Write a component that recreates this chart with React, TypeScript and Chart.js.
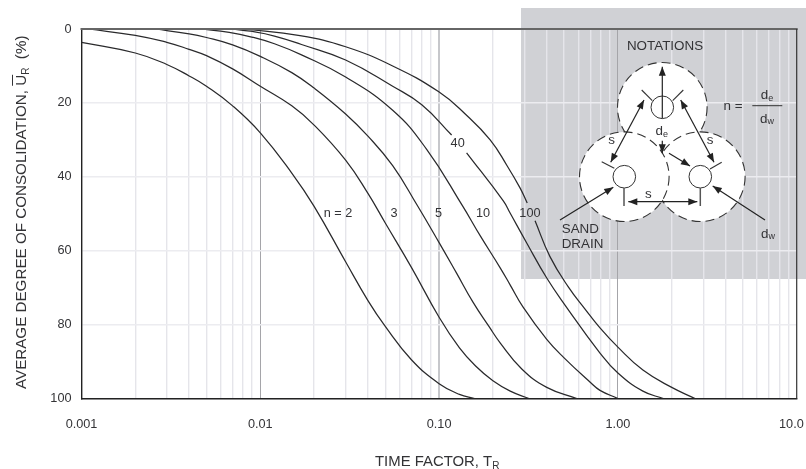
import React, { useEffect, useRef } from "react";
import { Chart, registerables } from "chart.js";

Chart.register(...registerables);

const FONT = '"Liberation Sans", Arial, sans-serif';
const INK = "#333336";

const xTicks = [0.001,0.002,0.003,0.004,0.005,0.006,0.007,0.008,0.009,0.01,0.02,0.03,0.04,0.05,0.06,0.07,0.08,0.09,0.1,0.2,0.3,0.4,0.5,0.6,0.7,0.8,0.9,1,2,3,4,5,6,7,8,9,10];
const xLabels: Record<string, string> = { "0.001": "0.001", "0.01": "0.01", "0.1": "0.10", "1": "1.00", "10": "10.0\u00a0\u00a0\u00a0" };
const yTicks = [0, 20, 40, 60, 80, 100];

const t2 = [0.001,0.002,0.003,0.004,0.005,0.007,0.01,0.015,0.02,0.03,0.04,0.05,0.07,0.1,0.13,0.158];
const u2 = [3.6,6.5,9.6,12.7,15.5,20.8,28.1,39,48,63,73.5,80.5,89.5,96,98.9,100];
const t3 = [0.00109,0.002,0.003,0.004,0.005,0.007,0.01,0.015,0.02,0.03,0.04,0.05,0.07,0.1,0.13,0.16,0.2,0.25,0.318];
const u3 = [0,1.7,3.6,5.5,7.2,10.8,15.5,20.8,26,35.5,44.5,52.5,64.5,78,86.3,91.2,95.2,98,100];
const t5 = [0.00258,0.004,0.005,0.007,0.01,0.015,0.02,0.03,0.04,0.055,0.075,0.1,0.125,0.155,0.19,0.22,0.29,0.4,0.589];
const u5 = [0,1.3,2.3,4.3,7.4,11.8,16,23,29,37,47.5,57.8,66,74,80.5,85,92,97,100];
const t10 = [0.0046,0.0067,0.009,0.012,0.017,0.03,0.055,0.085,0.135,0.17,0.22,0.25,0.2944,0.4,0.5,0.7,0.794,1];
const u10 = [0,0.9,2.2,4,7,13,22,32.5,47.8,56,64.7,69.3,75.2,84,89,95.6,97.8,100];
const t40 = [0.00695,0.0088,0.012,0.017,0.03,0.055,0.08,0.1175,0.13,0.1425,0.2286,0.2495,0.309,0.4,0.506,0.794,1,1.38,1.795];
const u40 = [0,0.6,1.9,4.2,8.4,15.5,20.5,28.7,null,33.5,46.5,49.8,57.9,67.4,74.7,87.7,93.1,98,100];
const t100 = [0.008,0.01667,0.03,0.055,0.0996,0.14,0.193,0.24,0.2835,0.311,0.328,0.344,0.417,0.528,0.655,0.794,1,1.38,2,2.7];
const u100 = [0,1.8,4.8,10,17,23,30,37,43,47.1,null,51.9,61.6,69.8,75.8,80.9,86.1,92.3,97,100];

const seriesNames = ["n = 2", "3", "5", "10", "40", "100"];
const seriesT = [t2, t3, t5, t10, t40, t100];
const seriesU = [u2, u3, u5, u10, u40, u100];
const curveLabelT = [0.0272, 0.056, 0.0993, 0.176, 0.127, 0.322];
const curveLabelU = [49.8, 49.8, 49.8, 49.8, 30.9, 49.8];
const curveLabelText = ["n = 2", "3", "5", "10", "40", "100"];

function arrow(ctx: CanvasRenderingContext2D, x1: number, y1: number, x2: number, y2: number, startHead: boolean, endHead: boolean) {
  ctx.beginPath();
  ctx.moveTo(x1, y1);
  ctx.lineTo(x2, y2);
  ctx.stroke();
  const head = (hx: number, hy: number, fx: number, fy: number) => {
    const a = Math.atan2(hy - fy, hx - fx);
    const L = 9, W = 3.5;
    ctx.beginPath();
    ctx.moveTo(hx, hy);
    ctx.lineTo(hx - L * Math.cos(a) - W * Math.sin(a), hy - L * Math.sin(a) + W * Math.cos(a));
    ctx.lineTo(hx - L * Math.cos(a) + W * Math.sin(a), hy - L * Math.sin(a) - W * Math.cos(a));
    ctx.closePath();
    ctx.fill();
  };
  if (startHead) head(x1, y1, x2, y2);
  if (endHead) head(x2, y2, x1, y1);
}

function seg(ctx: CanvasRenderingContext2D, x1: number, y1: number, x2: number, y2: number) {
  ctx.beginPath();
  ctx.moveTo(x1, y1);
  ctx.lineTo(x2, y2);
  ctx.stroke();
}

function text(ctx: CanvasRenderingContext2D, s: string, x: number, y: number, size = 13.4, align: CanvasTextAlign = "center") {
  ctx.font = `${size}px ${FONT}`;
  ctx.textAlign = align;
  ctx.textBaseline = "middle";
  ctx.fillStyle = INK;
  ctx.fillText(s, x, y);
}

function subText(ctx: CanvasRenderingContext2D, s: string, sub: string, x: number, y: number) {
  ctx.font = `13.4px ${FONT}`;
  const w = ctx.measureText(s).width;
  ctx.font = `9px ${FONT}`;
  const sw = ctx.measureText(sub).width;
  const left = x - (w + sw) / 2;
  text(ctx, s, left, y, 13.4, "left");
  text(ctx, sub, left + w, y + 3, 9, "left");
}

const panelPlugin = {
  id: "panel",
  beforeDraw(chart: any) {
    const ctx = chart.ctx;
    ctx.save();
    ctx.fillStyle = "#d0d1d5";
    ctx.fillRect(521, 8, 285, 271);
    ctx.restore();
  },
};

const insetPlugin = {
  id: "inset",
  afterDatasetsDraw(chart: any) {
    const ctx: CanvasRenderingContext2D = chart.ctx;
    const { chartArea: a, scales } = chart;
    ctx.save();

    // frame
    ctx.strokeStyle = "#666";
    ctx.lineWidth = 2;
    seg(ctx, a.left - 1, a.top, a.right + 1, a.top);
    ctx.strokeStyle = "#333";
    ctx.lineWidth = 1.2;
    seg(ctx, a.right, a.top, a.right, a.bottom);

    // circles (order keeps the front arcs visible)
    const R = 44.8;
    const cy = 176.7;
    const circles = [[662.3, 107.3], [700.3, cy], [624.3, cy]];
    for (const [cx, y] of circles) {
      ctx.beginPath();
      ctx.arc(cx, y, R, 0, Math.PI * 2);
      ctx.fillStyle = "#ffffff";
      ctx.fill();
      ctx.setLineDash([9, 5]);
      ctx.strokeStyle = "#333";
      ctx.lineWidth = 1.1;
      ctx.stroke();
      ctx.setLineDash([]);
    }
    for (const [cx, y] of circles) {
      ctx.beginPath();
      ctx.arc(cx, y, 11.3, 0, Math.PI * 2);
      ctx.strokeStyle = "#333";
      ctx.lineWidth = 1;
      ctx.stroke();
    }

    // leader stubs
    ctx.strokeStyle = "#333";
    ctx.lineWidth = 1.1;
    seg(ctx, 641.7, 90, 652.3, 100.7);
    seg(ctx, 683.3, 90, 672.7, 100.7);
    seg(ctx, 601.7, 161.7, 614.3, 168.3);
    seg(ctx, 721.7, 162.3, 710, 169);
    ctx.strokeStyle = "#555";
    ctx.lineWidth = 1.5;
    seg(ctx, 624, 188, 624, 206);
    seg(ctx, 700.3, 188, 700.3, 206);

    // arrows
    ctx.fillStyle = "#222";
    ctx.strokeStyle = "#222";
    ctx.lineWidth = 1.2;
    arrow(ctx, 662.3, 118.3, 662.3, 66.7, false, true);
    arrow(ctx, 610.7, 162.3, 644, 100, true, true);
    arrow(ctx, 680.7, 100, 714, 162.3, true, true);
    arrow(ctx, 628.3, 201.7, 697.3, 201.7, true, true);
    arrow(ctx, 662.3, 140.7, 662.3, 153.3, false, true);
    arrow(ctx, 669, 153.3, 690, 166, false, true);
    arrow(ctx, 560, 220, 613.3, 187.3, false, true);
    arrow(ctx, 765, 220, 712.7, 186, false, true);
    ctx.fillStyle = INK;

    // inset text
    text(ctx, "NOTATIONS", 665, 46.7);
    text(ctx, "n =", 733, 106.7);
    ctx.strokeStyle = "#333";
    ctx.lineWidth = 1;
    seg(ctx, 752.3, 105.7, 782.3, 105.7);
    subText(ctx, "d", "e", 767, 95.7);
    subText(ctx, "d", "w", 767, 119);
    subText(ctx, "d", "e", 661.7, 131.7);
    subText(ctx, "d", "w", 768, 234);
    text(ctx, "s", 611.7, 140.7);
    text(ctx, "s", 710, 140.7);
    text(ctx, "s", 648.3, 194.3);
    text(ctx, "SAND", 561.7, 229.3, 13.4, "left");
    text(ctx, "DRAIN", 561.7, 244.3, 13.4, "left");

    // curve labels
    curveLabelText.forEach((s, i) => {
      text(ctx, s, scales.x.getPixelForValue(curveLabelT[i]), scales.y.getPixelForValue(curveLabelU[i]), 12.7);
    });

    // axis titles with overbar and subscripts
    ctx.font = `14.9px ${FONT}`;
    const xMain = "TIME FACTOR, T";
    ctx.textAlign = "left";
    ctx.textBaseline = "alphabetic";
    ctx.fillStyle = INK;
    ctx.fillText(xMain, 375, 466);
    const xw = ctx.measureText(xMain).width;
    ctx.font = `10px ${FONT}`;
    ctx.fillText("R", 375 + xw, 469);

    ctx.translate(25.5, 389);
    ctx.rotate(-Math.PI / 2);
    ctx.font = `15.2px ${FONT}`;
    const p1 = "AVERAGE DEGREE OF CONSOLIDATION, ";
    ctx.fillText(p1, 0, 0);
    let px = ctx.measureText(p1).width;
    ctx.fillText("U", px, 0);
    const uw = ctx.measureText("U").width;
    ctx.strokeStyle = INK;
    ctx.lineWidth = 1;
    seg(ctx, px, -13, px + uw, -13);
    px += uw;
    ctx.font = `10px ${FONT}`;
    ctx.fillText("R", px, 3);
    px += ctx.measureText("R").width;
    ctx.font = `15.2px ${FONT}`;
    ctx.fillText("  (%)", px, 0);
    ctx.restore();
  },
};

export default function App() {
  const ref = useRef<HTMLCanvasElement>(null);
  useEffect(() => {
    document.body.style.margin = "0";
    const chart = new Chart(ref.current as HTMLCanvasElement, {
      type: "line",
      data: {
        datasets: seriesNames.map((label, i) => ({
          label,
          data: seriesT[i].map((t, j) => ({ x: t, y: seriesU[i][j] })),
          borderColor: "#2a2a2c",
          borderWidth: 1.25,
          pointRadius: 0,
          tension: 0.45,
          spanGaps: false,
          fill: false,
        })),
      } as any,
      options: {
        animation: false,
        responsive: false,
        layout: { padding: { top: 29, right: 9.3, left: 0, bottom: 0 } },
        plugins: { legend: { display: false }, tooltip: { enabled: false } },
        scales: {
          x: {
            type: "logarithmic",
            min: 0.001,
            max: 10,
            afterBuildTicks(scale: any) {
              scale.ticks = xTicks.map((value) => ({ value }));
            },
            afterFit(scale: any) {
              scale.height = 70.5;
              scale.paddingLeft = 0;
              scale.paddingRight = 0;
            },
            ticks: {
              autoSkip: false,
              maxRotation: 0,
              padding: 18.5,
              color: INK,
              font: { family: FONT, size: 12.7 },
              callback: (v: any) => xLabels[String(Number(v))] ?? "",
            },
            grid: {
              drawTicks: false,
              color: (c: any) => {
                const v = c.tick?.value;
                if (v === 0.1) return "#c6c7cb";
                if (v === 0.01 || v === 1) return "#a5a5a9";
                if (v === 0.001 || v === 10) return "rgba(0,0,0,0)";
                return "#e5e5ea";
              },
              lineWidth: (c: any) => (c.tick?.value === 0.1 ? 2 : c.tick?.value === 0.01 || c.tick?.value === 1 ? 1 : 1.4),
            },
            border: { color: "#222", width: 1.4 },
          },
          y: {
            type: "linear",
            reverse: true,
            min: 0,
            max: 100,
            afterBuildTicks(scale: any) {
              scale.ticks = yTicks.map((value) => ({ value }));
            },
            afterFit(scale: any) {
              scale.width = 81.5;
              scale.paddingTop = 0;
              scale.paddingBottom = 0;
            },
            ticks: {
              padding: 10,
              color: INK,
              font: { family: FONT, size: 12.7 },
            },
            grid: { drawTicks: false, color: "#ececf0", lineWidth: 1.4 },
            border: { color: "#222", width: 1.4 },
          },
        },
      } as any,
      plugins: [panelPlugin, insetPlugin],
    });
    return () => chart.destroy();
  }, []);
  return <canvas ref={ref} width={806} height={469} style={{ display: "block", width: 806, height: 469 }} />;
}
